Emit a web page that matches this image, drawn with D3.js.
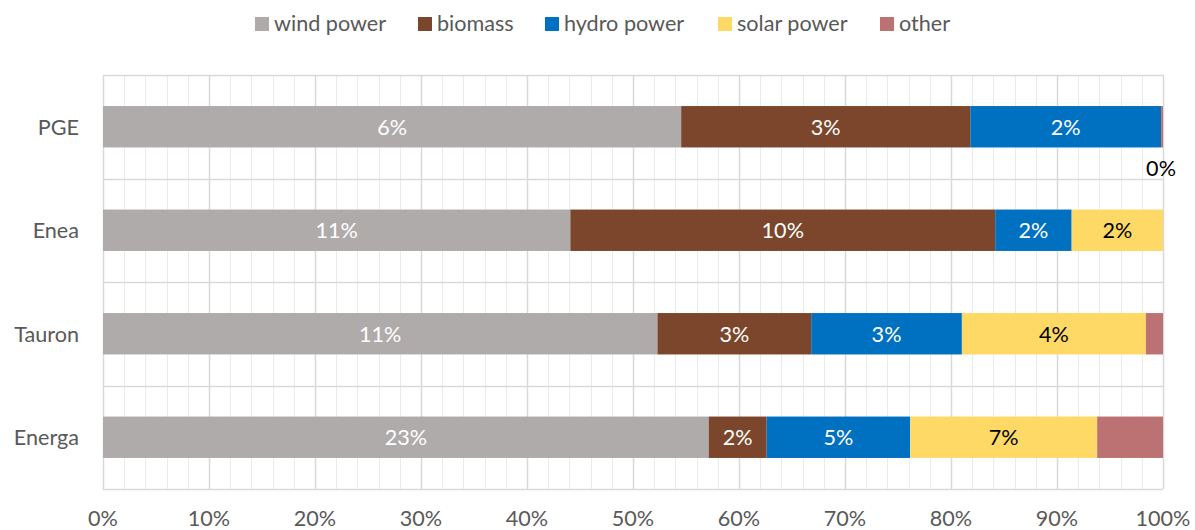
<!DOCTYPE html>
<html>
<head>
<meta charset="utf-8">
<script src="https://cdn.jsdelivr.net/npm/d3@7"></script>
<style>
  body { margin: 0; background: #fff; }
  text { font-family: Lato, "Open Sans", sans-serif; }
</style>
</head>
<body>
<div id="chart"></div>
<script>
var svgWidth = 1195;
var svgHeight = 530;

// data, shares (label = rounded value)
var companies = ["PGE", "Enea", "Tauron", "Energa"];
var seriesNames = ["wind power", "biomass", "hydro power", "solar power", "other"];
var wind = [6.0, 11.0, 11.0, 23.0];
var biomass = [3.0, 10.0, 3.05, 2.2];
var hydro = [1.98, 1.8, 2.99, 5.45];
var solar = [0, 2.15, 3.65, 7.1];
var other = [0.02, 0, 0.34, 2.5];
// labels shown for the "other" series (the rest are hidden in the original)
var otherLabels = ["0%", "", "", ""];
var xTicks = [0, 0.1, 0.2, 0.3, 0.4, 0.5, 0.6, 0.7, 0.8, 0.9, 1.0];

var colors = ["#AFABAB", "#7B462B", "#0070C0", "#FFD966", "#BC7272"];
var labelColors = ["#fff", "#fff", "#fff", "#000", "#000"];

var margin = { top: 75, right: 32, bottom: 41, left: 103 };
var width = 1163 - margin.left;
var height = 489 - margin.top;
var fontSize = "21.6px";

var svg = d3.select("#chart").append("svg")
  .attr("width", svgWidth)
  .attr("height", svgHeight);

var chartGroup = svg.append("g")
  .attr("transform", `translate(${margin.left}, ${margin.top})`);

// build rows
var table = companies.map(function(c, i) {
  var row = { company: c };
  row["wind power"] = wind[i];
  row["biomass"] = biomass[i];
  row["hydro power"] = hydro[i];
  row["solar power"] = solar[i];
  row["other"] = other[i];
  return row;
});

var stack = d3.stack().keys(seriesNames).offset(d3.stackOffsetExpand);
var stacked = stack(table);

var xScale = d3.scaleLinear().domain([0, 1]).range([0, width]);
var yScale = d3.scaleBand().domain(companies).range([0, height]).paddingInner(0).paddingOuter(0);

// minor gridlines every 2%
var minor = d3.range(0, 101, 2).map(d => d / 100);
chartGroup.selectAll(".minor")
  .data(minor)
  .enter().append("line")
  .attr("x1", d => Math.round(xScale(d)) + 0.5)
  .attr("x2", d => Math.round(xScale(d)) + 0.5)
  .attr("y1", 0).attr("y2", height)
  .attr("stroke", "#ebebeb").attr("stroke-width", 1);

// horizontal lines at category boundaries
chartGroup.selectAll(".hline")
  .data(d3.range(companies.length + 1))
  .enter().append("line")
  .attr("x1", 0).attr("x2", width)
  .attr("y1", d => Math.round(d * yScale.step()) + 0.5)
  .attr("y2", d => Math.round(d * yScale.step()) + 0.5)
  .attr("stroke", "#d9d9d9").attr("stroke-width", 1.5);

// major gridlines
chartGroup.selectAll(".major")
  .data(xTicks)
  .enter().append("line")
  .attr("x1", d => Math.round(xScale(d)) + 0.5)
  .attr("x2", d => Math.round(xScale(d)) + 0.5)
  .attr("y1", 0).attr("y2", height)
  .attr("stroke", "#d9d9d9").attr("stroke-width", 1.5);

// bars
var barH = yScale.bandwidth() * 0.4;
var layers = chartGroup.selectAll(".layer")
  .data(stacked)
  .enter().append("g")
  .attr("fill", (d, i) => colors[i]);

layers.selectAll("rect")
  .data(d => d)
  .enter().append("rect")
  .attr("x", d => xScale(d[0]))
  .attr("width", d => xScale(d[1]) - xScale(d[0]))
  .attr("y", d => yScale(d.data.company) + (yScale.bandwidth() - barH) / 2)
  .attr("height", barH);

// data labels
stacked.forEach(function(layer, si) {
  layer.forEach(function(d, ci) {
    var v = table[ci][layer.key];
    var label;
    if (layer.key === "other") label = otherLabels[ci];
    else label = v > 0 ? Math.round(v) + "%" : "";
    if (!label) return;
    var cx = (xScale(d[0]) + xScale(d[1])) / 2;
    var cy = yScale(d.data.company) + yScale.bandwidth() / 2;
    var outside = (xScale(d[1]) - xScale(d[0])) < 20;
    chartGroup.append("text")
      .attr("x", outside ? cx - 1 : cx)
      .attr("y", outside ? cy + barH / 2 + 29 : cy + 8)
      .attr("text-anchor", "middle")
      .attr("font-size", fontSize)
      .attr("fill", outside ? "#000" : labelColors[si])
      .text(label);
  });
});

// axes labels
chartGroup.selectAll(".ylab")
  .data(companies)
  .enter().append("text")
  .attr("x", -24)
  .attr("y", d => yScale(d) + yScale.bandwidth() / 2 + 8)
  .attr("text-anchor", "end")
  .attr("font-size", fontSize)
  .attr("fill", "#595959")
  .text(d => d);

chartGroup.selectAll(".xlab")
  .data(xTicks)
  .enter().append("text")
  .attr("x", d => xScale(d))
  .attr("y", height + 37)
  .attr("text-anchor", "middle")
  .attr("font-size", fontSize)
  .attr("fill", "#595959")
  .text(d => d3.format(".0%")(d));

// legend
var legendX = [255, 418, 545, 718, 880];
var legend = svg.selectAll(".legend")
  .data(seriesNames)
  .enter().append("g")
  .attr("transform", (d, i) => `translate(${legendX[i]}, 17)`);

legend.append("rect")
  .attr("width", 14).attr("height", 14)
  .attr("fill", (d, i) => colors[i]);

legend.append("text")
  .attr("x", 19)
  .attr("y", 14)
  .attr("font-size", fontSize)
  .attr("fill", "#595959")
  .text(d => d);
</script>
</body>
</html>
